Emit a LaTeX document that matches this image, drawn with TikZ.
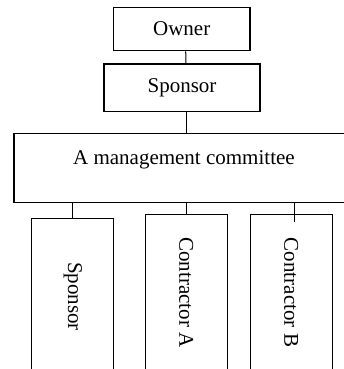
\documentclass[tikz,border=0pt]{standalone}
\usepackage{fontspec}
\setmainfont{Liberation Serif}
\tikzset{
  unit/.style={draw, line width=1.2pt, inner sep=0pt, font=\fontsize{21}{25}\selectfont},
  member/.style={unit, rotate=-90, minimum width=156pt, minimum height=82pt},
  link/.style={line width=1pt}
}
\begin{document}
\begin{tikzpicture}[x=1pt,y=-1pt]

  \useasboundingbox (0,0) rectangle (343,369);

  % top of the chart
  \node[unit, minimum width=136.7pt, minimum height=43.4pt] (owner) at (181.7,29) {Owner};
  \node[unit, minimum width=156pt, minimum height=47.7pt] (sponsor) at (182,87.8) {Sponsor};
  \node[unit, anchor=north west, minimum width=340pt, text height=31.6pt, text depth=37.4pt] (committee) at (13.3,132.7) {A management committee};

  % members
  \node[member] (spon2) at (72.8,296.5) {Sponsor};
  \node[member] (cA) at (186.2,292.5) {Contractor A};
  \node[member] (cB) at (291.2,292.5) {Contractor B};

  % connectors
  \draw[link] ([xshift=4pt]owner.south) -- ([xshift=4pt]sponsor.north);
  \draw[link] ([xshift=4pt]sponsor.south) -- ([xshift=4pt]sponsor.south |- committee.north);
  \foreach \m in {spon2,cA}
    \draw[link] (\m.west |- committee.south) -- (\m.west);
  \coordinate (cBtip) at ([xshift=3pt,yshift=-8pt]cB.west);
  \draw[link] (cBtip |- committee.south) -- (cBtip);
\end{tikzpicture}
\end{document}
